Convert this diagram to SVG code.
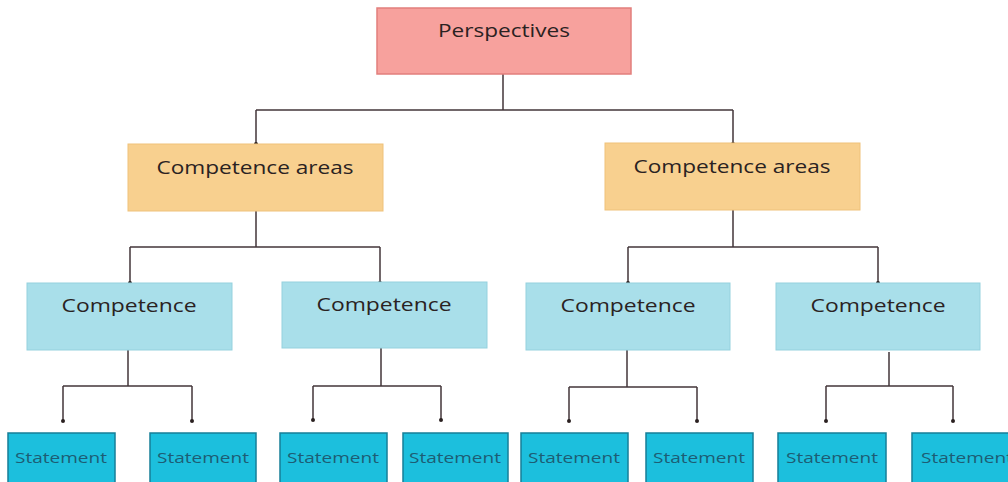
<svg xmlns="http://www.w3.org/2000/svg" width="1008" height="482" viewBox="0 0 1008 482">
<style>
.t{font-family:"Open Sans","Liberation Sans",sans-serif;fill:#2a2222;text-anchor:middle}
.persp{fill:#f7a19d;stroke:#e27f7c;stroke-width:1.5}
.area{fill:#f8d08f;stroke:#efc27a;stroke-width:1}
.comp{fill:#a9dfea;stroke:#95d1de;stroke-width:1}
.stmt{fill:#1cbfdd;stroke:#167f98;stroke-width:1.5}
.st{font-family:"Open Sans","Liberation Sans",sans-serif;fill:#1d5d74;text-anchor:middle;font-size:15px}
.ln{fill:none;stroke:#43363a;stroke-width:1.5}
.dot{fill:#2a2020}
</style>
<rect width="1008" height="482" fill="#ffffff"/>
<g id="connectors">
<path class="ln" d="M503 74V110M256 110H733M256 110V144M733 110V144"/>
<path class="ln" d="M256 211V247M130 247H380M130 247V283M380 247V283"/>
<path class="ln" d="M733 210V247M628 247H878M628 247V283M878 247V283"/>
<path class="ln" d="M128 350V386M63 386H192M63 386V421M192 386V421"/>
<path class="ln" d="M381 348V386M313 386H441M313 386V420M441 386V420"/>
<path class="ln" d="M627 350V387M569 387H697M569 387V421M697 387V421"/>
<path class="ln" d="M889 352V386M826 386H953M826 386V421M953 386V421"/>
<circle class="dot" cx="256" cy="144" r="2"/>
<circle class="dot" cx="733" cy="144" r="2"/>
<circle class="dot" cx="130" cy="283" r="2"/>
<circle class="dot" cx="380" cy="283" r="2"/>
<circle class="dot" cx="628" cy="283" r="2"/>
<circle class="dot" cx="878" cy="283" r="2"/>
<circle class="dot" cx="63" cy="421" r="2"/>
<circle class="dot" cx="192" cy="421" r="2"/>
<circle class="dot" cx="313" cy="420" r="2"/>
<circle class="dot" cx="441" cy="420" r="2"/>
<circle class="dot" cx="569" cy="421" r="2"/>
<circle class="dot" cx="697" cy="421" r="2"/>
<circle class="dot" cx="826" cy="421" r="2"/>
<circle class="dot" cx="953" cy="421" r="2"/>
</g>
<g id="perspectives">
<rect class="persp" x="377" y="8" width="254" height="66"/>
<text class="t" x="504" y="37" font-size="18" textLength="132" lengthAdjust="spacingAndGlyphs">Perspectives</text>
</g>
<g id="area1">
<rect class="area" x="128" y="144" width="255" height="67"/>
<text class="t" x="255" y="174" font-size="19" textLength="197" lengthAdjust="spacingAndGlyphs">Competence areas</text>
</g>
<g id="area2">
<rect class="area" x="605" y="143" width="255" height="67"/>
<text class="t" x="732" y="173" font-size="19" textLength="197" lengthAdjust="spacingAndGlyphs">Competence areas</text>
</g>
<g id="comp1">
<rect class="comp" x="27" y="283" width="205" height="67"/>
<text class="t" x="129" y="312" font-size="18" textLength="135" lengthAdjust="spacingAndGlyphs">Competence</text>
</g>
<g id="comp2">
<rect class="comp" x="282" y="282" width="205" height="66"/>
<text class="t" x="384" y="311" font-size="18" textLength="135" lengthAdjust="spacingAndGlyphs">Competence</text>
</g>
<g id="comp3">
<rect class="comp" x="526" y="283" width="204" height="67"/>
<text class="t" x="628" y="312" font-size="18" textLength="135" lengthAdjust="spacingAndGlyphs">Competence</text>
</g>
<g id="comp4">
<rect class="comp" x="776" y="283" width="204" height="67"/>
<text class="t" x="878" y="312" font-size="18" textLength="135" lengthAdjust="spacingAndGlyphs">Competence</text>
</g>
<g id="stmt1"><rect class="stmt" x="8" y="433" width="107" height="55"/><text class="st" x="61" y="463" textLength="92" lengthAdjust="spacingAndGlyphs">Statement</text></g>
<g id="stmt2"><rect class="stmt" x="150" y="433" width="106" height="55"/><text class="st" x="203" y="463" textLength="92" lengthAdjust="spacingAndGlyphs">Statement</text></g>
<g id="stmt3"><rect class="stmt" x="280" y="433" width="107" height="55"/><text class="st" x="333" y="463" textLength="92" lengthAdjust="spacingAndGlyphs">Statement</text></g>
<g id="stmt4"><rect class="stmt" x="403" y="433" width="105" height="55"/><text class="st" x="455" y="463" textLength="92" lengthAdjust="spacingAndGlyphs">Statement</text></g>
<g id="stmt5"><rect class="stmt" x="521" y="433" width="107" height="55"/><text class="st" x="574" y="463" textLength="92" lengthAdjust="spacingAndGlyphs">Statement</text></g>
<g id="stmt6"><rect class="stmt" x="646" y="433" width="107" height="55"/><text class="st" x="699" y="463" textLength="92" lengthAdjust="spacingAndGlyphs">Statement</text></g>
<g id="stmt7"><rect class="stmt" x="778" y="433" width="108" height="55"/><text class="st" x="832" y="463" textLength="92" lengthAdjust="spacingAndGlyphs">Statement</text></g>
<g id="stmt8"><rect class="stmt" x="912" y="433" width="110" height="55"/><text class="st" x="967" y="463" textLength="92" lengthAdjust="spacingAndGlyphs">Statement</text></g>
</svg>
